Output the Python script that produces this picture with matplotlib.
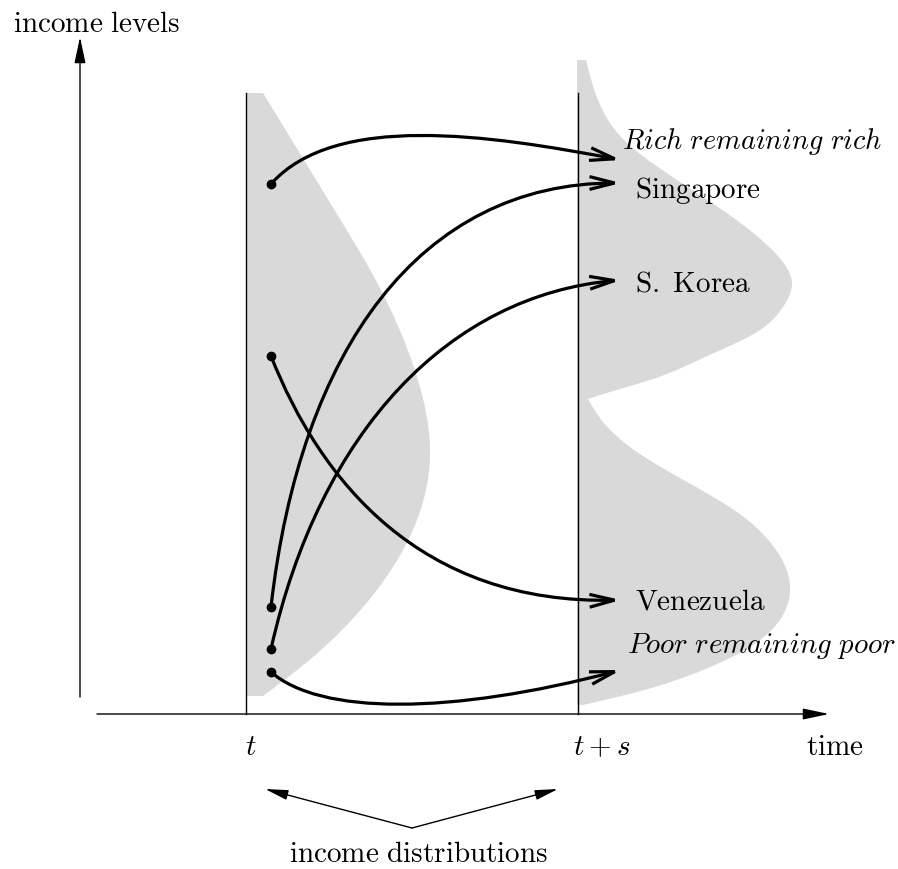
import numpy as np
import matplotlib
matplotlib.use('Agg')
import matplotlib.pyplot as plt
from matplotlib.path import Path
from matplotlib.patches import PathPatch, FancyArrowPatch, ArrowStyle

plt.rcParams['mathtext.fontset'] = 'cm'

# ---------------- data (income levels measured downward on the diagram scale) ----------------
# income distribution at time t  (density = horizontal extent of the grey shape)
dist_t_levels = [93, 219, 275, 377, 449, 520, 595, 662, 696]
dist_t_density = [16, 93, 126, 170, 183, 170, 126, 60, 16]

# bimodal income distribution at time t+s (two lobes: rich club / poor club)
dist_ts_upper_levels = [60, 100, 140, 195, 255, 283, 307, 332, 358, 379, 392, 399]
dist_ts_upper_density = [9, 21, 47, 123, 200, 215, 206, 180, 126, 76, 33, 11]
dist_ts_lower_levels = [399, 422, 452, 482, 512, 542, 585, 615, 645, 670, 692, 705]
dist_ts_lower_density = [11, 26, 60, 110, 160, 193, 213, 206, 176, 126, 60, 6]

# transitions between t and t+s
labels = ['Rich remaining rich', 'Singapore', 'S. Korea', 'Venezuela', 'Poor remaining poor']
italic = [True, False, False, False, True]
start_level = [184, 607, 649, 356, 672]
end_level = [160, 183, 280, 600, 670]
# bezier control levels of each transition path
ctrl1_level = [112, 350, 430, 480, 715]
ctrl2_level = [135, 183, 295, 605, 715]

# ---------------- layout ----------------
W, H = 898, 869
fig = plt.figure(figsize=(W / 100, H / 100), dpi=100)
ax = fig.add_axes([0, 0, 1, 1])
ax.set_xlim(0, W)
ax.set_ylim(H, 0)
ax.axis('off')

x_t, x_ts = 246, 578
x_start, x_end = 271, 621
ctrl1_x = [335, 300, 320, 320, 320]
ctrl2_x = [490, 420, 450, 420, 450]
label_x = [622, 635, 635, 635, 627]
label_dy = [-11, 15, 12, 10, -17]
label_fs = [20.3, 21, 21, 21, 20.8]
fs = 21
grey = '#d9d9d9'


def smooth_shape(levels, dens, base):
    """Closed shape whose right edge is a natural cubic spline (as Bezier segments)."""
    y = np.asarray(levels, float)
    x = base + np.asarray(dens, float)
    n = len(y)
    h = np.diff(y)
    d = np.diff(x) / h
    A = np.zeros((n, n))
    r = np.zeros(n)
    A[0, 0] = A[-1, -1] = 1
    for i in range(1, n - 1):
        A[i, i - 1], A[i, i], A[i, i + 1] = h[i - 1], 2 * (h[i - 1] + h[i]), h[i]
        r[i] = 6 * (d[i] - d[i - 1])
    M = np.linalg.solve(A, r)
    m = np.empty(n)
    m[:-1] = d - h * (2 * M[:-1] + M[1:]) / 6
    m[-1] = d[-1] + h[-1] * (M[-2] + 2 * M[-1]) / 6
    verts = [(x[0], y[0])]
    codes = [Path.MOVETO]
    for i in range(n - 1):
        verts += [(x[i] + m[i] * h[i] / 3, y[i] + h[i] / 3),
                  (x[i + 1] - m[i + 1] * h[i] / 3, y[i + 1] - h[i] / 3),
                  (x[i + 1], y[i + 1])]
        codes += [Path.CURVE4] * 3
    verts += [(base, y[-1]), (base, y[0]), (base, y[0])]
    codes += [Path.LINETO, Path.LINETO, Path.CLOSEPOLY]
    return Path(verts, codes)


for lv, dn, b in [(dist_t_levels, dist_t_density, x_t + 1),
                  (dist_ts_upper_levels, dist_ts_upper_density, x_ts - 1),
                  (dist_ts_lower_levels, dist_ts_lower_density, x_ts - 1)]:
    ax.add_patch(PathPatch(smooth_shape(lv, dn, b), facecolor=grey, edgecolor='none', zorder=1))

# time lines
ax.plot([x_t, x_t], [93, 714], color='k', lw=1.0, zorder=2)
ax.plot([x_ts, x_ts], [93, 714], color='k', lw=1.0, zorder=2)

# axes with arrows
axis_style = ArrowStyle('-|>', head_length=16, head_width=3.4)
ax.add_patch(FancyArrowPatch((80, 697), (80, 37), arrowstyle=axis_style, lw=1.0,
                             color='k', shrinkA=0, shrinkB=0, zorder=3))
ax.add_patch(FancyArrowPatch((97, 714), (829, 714), arrowstyle=axis_style, lw=1.0,
                             color='k', shrinkA=0, shrinkB=0, zorder=3))

# transitions
curve_style = ArrowStyle('->', head_length=18, head_width=4.6)
for i in range(len(labels)):
    p = Path([(x_start, start_level[i]), (ctrl1_x[i], ctrl1_level[i]),
              (ctrl2_x[i], ctrl2_level[i]), (x_end, end_level[i])],
             [Path.MOVETO, Path.CURVE4, Path.CURVE4, Path.CURVE4])
    ax.add_patch(FancyArrowPatch(path=p, arrowstyle=curve_style, lw=2.3, color='k',
                                 joinstyle='miter', capstyle='butt', zorder=4))
    ax.plot([x_start], [start_level[i]], 'o', color='k', ms=6, zorder=5)
    txt = labels[i].replace(' ', r'\ ')
    s = (r'$\mathit{%s}$' if italic[i] else r'$\mathrm{%s}$') % txt
    ax.text(label_x[i], end_level[i] + label_dy[i], s, fontsize=label_fs[i],
            ha='left', va='baseline', zorder=6)

# text
ax.text(13, 32, r'$\mathrm{income\ levels}$', fontsize=fs, ha='left', va='baseline')
ax.text(245, 755, r'$t$', fontsize=fs, ha='left', va='baseline')
ax.text(573, 755, r'$t+s$', fontsize=fs, ha='left', va='baseline')
ax.text(806, 755, r'$\mathrm{time}$', fontsize=fs, ha='left', va='baseline')
ax.text(289, 862, r'$\mathrm{income\ distributions}$', fontsize=fs, ha='left', va='baseline')

small_style = ArrowStyle('-|>', head_length=14, head_width=3.0)
for tip in [(265, 789), (558, 789)]:
    ax.add_patch(FancyArrowPatch((412, 828), tip, arrowstyle=small_style, lw=1.0,
                                 color='k', shrinkA=0, shrinkB=0, zorder=3))

fig.savefig('out.png', dpi=100)
